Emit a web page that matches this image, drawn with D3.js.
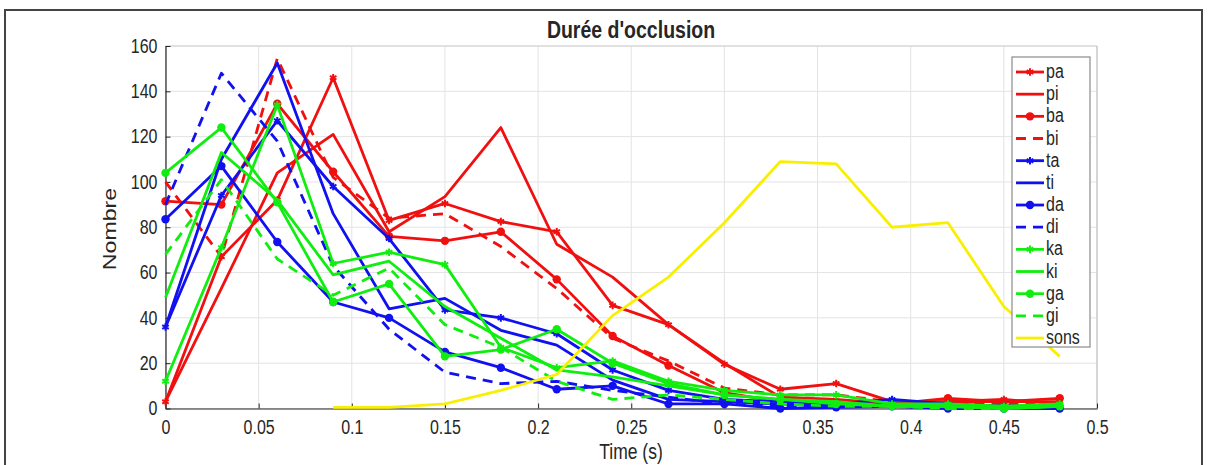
<!DOCTYPE html>
<html><head><meta charset="utf-8">
<script src="https://cdn.jsdelivr.net/npm/d3@7"></script>
<style>
body{margin:0;background:#fff;}
svg{display:block;}
text{font-family:"Liberation Sans",Arial,Helvetica,sans-serif;fill:#262626;}
</style></head>
<body>
<svg id="chart" width="1208" height="465"></svg>
<script>
const times = [0,0.03,0.06,0.09,0.12,0.15,0.18,0.21,0.24,0.27,0.30,0.33,0.36,0.39,0.42,0.45,0.48];
const pa = [3,67,92,146,83,90.5,82.5,78,45.5,37,19.5,8.5,11,3,3,4,2];
const pi = [3,53,104,121,78,93.5,124,72.5,58,37,20,5,4,2,3,3,3];
const ba = [91.5,90,134.5,104.5,76,74,78,57,32,19,7,3,2,2,4.5,3,4.5];
const bi = [100,67,154.5,102,84,86,71.5,53,31,21,9,6,6,3,2,2,2];
const ta = [36,94,127,98,75,43.5,40,33,17,8,4,3,2,4,2,1,1];
const ti = [36,110,152.5,86,44,48.6,34.5,28,12.5,4,3,2,1,1,1,0,1];
const da = [83.5,107,73.5,47,40,25,18,8.5,10,2,2,0,0.5,1,0,0,0];
const di = [90,148,118,63,35,16,11,12,8,5,2,1,1,2,1,1,1];
const ka = [12,71,134,64,69,63.5,27,18,21,12,8,6,6,2,2,1,2];
const ki = [49,113,92,59,65,45,31,17,14,10,6,4,3,1,1,0,1];
const ga = [104,124,91,47,55,23,26,35,20,11,6,4,2,1,1,0,1];
const gi = [68,101,66,50,62,37,27,12,4,6,4,2,1,1,0,0,1];
const sons = [null,null,null,0.5,0.5,2,8,15,41,58,82,109,108,80,82,45,23];

const xTicks = [0,0.05,0.1,0.15,0.2,0.25,0.3,0.35,0.4,0.45,0.5];
const yTicks = [0,20,40,60,80,100,120,140,160];

const RED="#f01010", BLUE="#1010f0", GREEN="#10ee10", YELLOW="#f8f000";
const series = [
  {name:"pa", v:pa, c:RED, dash:null, mk:"star"},
  {name:"pi", v:pi, c:RED, dash:null, mk:null},
  {name:"ba", v:ba, c:RED, dash:null, mk:"circle"},
  {name:"bi", v:bi, c:RED, dash:"10,7", mk:null},
  {name:"ta", v:ta, c:BLUE, dash:null, mk:"star"},
  {name:"ti", v:ti, c:BLUE, dash:null, mk:null},
  {name:"da", v:da, c:BLUE, dash:null, mk:"circle"},
  {name:"di", v:di, c:BLUE, dash:"10,7", mk:null},
  {name:"ka", v:ka, c:GREEN, dash:null, mk:"star"},
  {name:"ki", v:ki, c:GREEN, dash:null, mk:null},
  {name:"ga", v:ga, c:GREEN, dash:null, mk:"circle"},
  {name:"gi", v:gi, c:GREEN, dash:"10,7", mk:null},
  {name:"sons", v:sons, c:YELLOW, dash:null, mk:null}
];

const SY = 1.22; // vertical stretch of text seen in the reference
const svg = d3.select("#chart");
svg.append("rect").attr("x",5).attr("y",10).attr("width",1197).attr("height",470)
  .attr("fill","none").attr("stroke","#444").attr("stroke-width",2);

const L=165.5, R=1097, T=46, B=408.5;
const x = d3.scaleLinear().domain([0,0.5]).range([L,R]);
const y = d3.scaleLinear().domain([0,160]).range([B,T]);

const g = svg.append("g");
g.selectAll(".gx").data(xTicks).join("line")
  .attr("x1",d=>x(d)).attr("x2",d=>x(d)).attr("y1",T).attr("y2",B)
  .attr("stroke","#e3e3e3").attr("stroke-width",1);
g.selectAll(".gy").data(yTicks).join("line")
  .attr("x1",L).attr("x2",R).attr("y1",d=>y(d)).attr("y2",d=>y(d))
  .attr("stroke","#e3e3e3").attr("stroke-width",1);

svg.append("line").attr("x1",L).attr("x2",R).attr("y1",T).attr("y2",T).attr("stroke","#d0d0d0");
svg.append("line").attr("x1",R).attr("x2",R).attr("y1",T).attr("y2",B).attr("stroke","#bbb");

const xAxis = d3.axisBottom(x).tickValues(xTicks).tickFormat(d=>d3.format("")(d)).tickSizeInner(-5).tickSizeOuter(0).tickPadding(9.5);
const yAxis = d3.axisLeft(y).tickValues(yTicks).tickSizeInner(-5).tickSizeOuter(0).tickPadding(8);
const gx = svg.append("g").attr("transform",`translate(0,${B})`).call(xAxis);
const gy = svg.append("g").attr("transform",`translate(${L},0)`).call(yAxis);
[gx,gy].forEach(a=>{
  a.select(".domain").attr("stroke","#262626").attr("stroke-width",1.2);
  a.selectAll(".tick line").attr("stroke","#262626");
  a.selectAll(".tick text").attr("font-size",16).attr("fill","#262626")
   .style("font-family",'"Liberation Sans",Arial,sans-serif')
   .attr("transform",`scale(1,${SY})`);
});

const line = d3.line().defined(d=>d[1]!=null).x(d=>x(d[0])).y(d=>y(d[1]));
const plot = svg.append("g");
const star = d3.symbol().type(d3.symbolAsterisk).size(40);
series.forEach(s=>{
  const pts = times.map((t,i)=>[t,s.v[i]]);
  plot.append("path").datum(pts).attr("d",line).attr("fill","none")
    .attr("stroke",s.c).attr("stroke-width",2.8).attr("stroke-linejoin","round")
    .attr("stroke-dasharray",s.dash);
  const valid = pts.filter(d=>d[1]!=null);
  if(s.mk==="circle"){
    plot.selectAll(null).data(valid).join("circle")
      .attr("cx",d=>x(d[0])).attr("cy",d=>y(d[1])).attr("r",4.2).attr("fill",s.c);
  } else if(s.mk==="star"){
    plot.selectAll(null).data(valid).join("path")
      .attr("d",star).attr("transform",d=>`translate(${x(d[0])},${y(d[1])})`)
      .attr("fill","none").attr("stroke",s.c).attr("stroke-width",2);
  }
});

const lg = svg.append("g");
lg.append("rect").attr("x",1012).attr("y",57).attr("width",78).attr("height",290)
  .attr("fill","#fff").attr("stroke","#8a8a8a").attr("stroke-width",1.2);
series.forEach((s,i)=>{
  const yy = 72 + i*22.17;
  lg.append("line").attr("x1",1016).attr("x2",1044).attr("y1",yy).attr("y2",yy)
    .attr("stroke",s.c).attr("stroke-width",2.8).attr("stroke-dasharray",s.dash);
  if(s.mk==="circle") lg.append("circle").attr("cx",1030).attr("cy",yy).attr("r",4.2).attr("fill",s.c);
  if(s.mk==="star") lg.append("path").attr("d",star).attr("transform",`translate(1030,${yy})`)
    .attr("fill","none").attr("stroke",s.c).attr("stroke-width",2);
  lg.append("text").attr("transform",`translate(1046,${yy+6}) scale(1,${SY})`)
    .attr("font-size",16).text(s.name);
});

svg.append("text").attr("transform",`translate(631,38) scale(1,${SY})`).attr("text-anchor","middle")
  .attr("font-size",19.5).attr("font-weight","bold").text("Durée d'occlusion");
svg.append("text").attr("transform",`translate(631,459) scale(1,${SY})`).attr("text-anchor","middle")
  .attr("font-size",17.5).text("Time (s)");
svg.append("text").attr("transform",`translate(116,229) rotate(-90) scale(${SY},1)`).attr("text-anchor","middle")
  .attr("font-size",19).text("Nombre");
</script>
</body></html>
